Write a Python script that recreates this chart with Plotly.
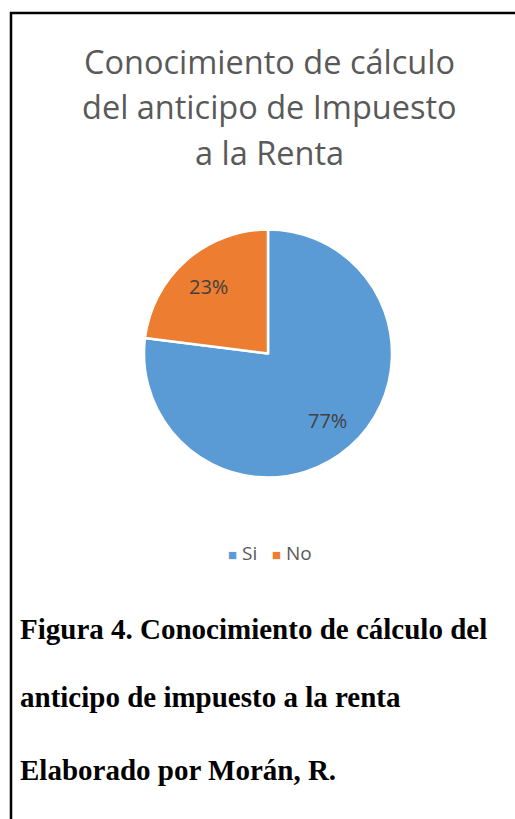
import math
import plotly.graph_objects as go

labels = ["Si", "No"]
values = [77, 23]
colors = ["#5B9BD5", "#ED7D31"]
title_lines = ["Conocimiento de cálculo", "del anticipo de Impuesto", "a la Renta"]
caption_lines = ["Figura 4. Conocimiento de cálculo del",
                 "anticipo de impuesto a la renta",
                 "Elaborado por Morán, R."]

W, H = 515, 819


def px(x):
    return x / W


def py(y):
    return 1 - y / H


cx, cy, r = 268, 353.5, 124

fig = go.Figure(go.Pie(
    labels=labels, values=values, sort=False, direction="clockwise", rotation=0,
    marker=dict(colors=colors, line=dict(color="white", width=2.5)),
    textinfo="none", hoverinfo="label+percent",
    domain=dict(x=[px(cx - r), px(cx + r)], y=[py(cy + r), py(cy - r)]),
    showlegend=False,
))

annotations = []
# data labels placed along each slice's mid-angle (Excel style, ~0.72 of radius)
total = sum(values)
cum = 0
for v in values:
    mid = (cum + v / 2) / total * 2 * math.pi
    cum += v
    lx = cx + 0.72 * r * math.sin(mid)
    ly = cy - 0.72 * r * math.cos(mid)
    annotations.append(dict(text=f"{round(100 * v / total)}%", x=px(lx), y=py(ly), xref="paper", yref="paper",
                            xanchor="center", yanchor="middle", showarrow=False,
                            font=dict(family="Open Sans, sans-serif", size=20, color="#404040")))

for i, t in enumerate(title_lines):
    annotations.append(dict(text=t, x=px(269), y=py(62 + 45 * i), xref="paper", yref="paper",
                            xanchor="center", yanchor="middle", showarrow=False,
                            font=dict(family="Open Sans, sans-serif", size=32.5, color="#595959")))
cap_y = [629, 697, 770]
for t, yy in zip(caption_lines, cap_y):
    annotations.append(dict(text="<b>" + t + "</b>", x=px(18), y=py(yy), xref="paper", yref="paper",
                            xanchor="left", yanchor="middle", showarrow=False,
                            font=dict(family="Liberation Serif, Times New Roman, serif", size=29, color="black")))

legend_text = "&nbsp;&nbsp;&nbsp;".join(
    f"<span style='color:{c};font-size:15px'>■</span> {l}" for l, c in zip(labels, colors))
annotations.append(dict(text=legend_text, x=px(270), y=py(553), xref="paper", yref="paper",
                        xanchor="center", yanchor="middle", showarrow=False,
                        font=dict(family="Open Sans, sans-serif", size=19, color="#595959")))

fig.update_layout(
    width=W, height=H, margin=dict(l=0, r=0, t=0, b=0),
    paper_bgcolor="white", plot_bgcolor="white",
    annotations=annotations,
    shapes=[
        dict(type="line", xref="paper", yref="paper", x0=px(10), x1=1, y0=py(13), y1=py(13),
             line=dict(color="black", width=2.5)),
        dict(type="line", xref="paper", yref="paper", x0=px(11), x1=px(11), y0=py(12), y1=0,
             line=dict(color="black", width=2.5)),
    ],
)

fig.write_html("out.html", config={"displayModeBar": False},
               post_script="document.body.style.margin='0';document.body.style.overflow='hidden';")
